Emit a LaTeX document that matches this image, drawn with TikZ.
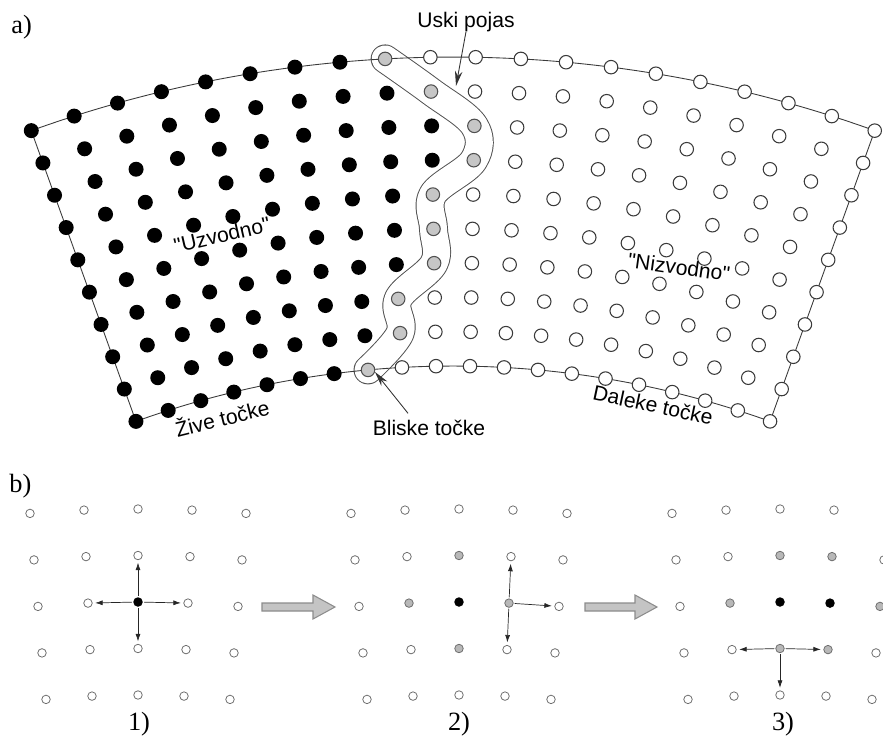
\documentclass[tikz,border=0pt]{standalone}
\usepackage{fontspec}
\setmainfont{Liberation Serif}
\newfontfamily\lsans{Liberation Sans}
\usetikzlibrary{arrows.meta}
\definecolor{dotgray}{HTML}{C6C6C6}
\definecolor{smallgray}{HTML}{B8B8B8}
\definecolor{linegray}{HTML}{3A3A3A}
\definecolor{bandgray}{HTML}{505050}
\definecolor{arrowfill}{HTML}{C4C4C4}
\definecolor{arrowedge}{HTML}{8C8C8C}
\definecolor{ringgray}{HTML}{6E6E6E}
\newcommand\markblack[1]{\expandafter\def\csname Sb#1\endcsname{}}
\newcommand\markgrey[1]{\expandafter\def\csname Sg#1\endcsname{}}
\markblack{0-2-2}\markblack{1-2-2}\markblack{2-2-2}\markblack{2-2-3}
\markgrey{1-1-2}\markgrey{1-2-1}\markgrey{1-2-3}\markgrey{1-3-2}
\markgrey{2-1-2}\markgrey{2-1-3}\markgrey{2-2-1}\markgrey{2-2-4}\markgrey{2-3-2}\markgrey{2-3-3}
\begin{document}
\begin{tikzpicture}[x=0.02cm,y=-0.02cm,
  blackdot/.style={circle,inner sep=0pt,minimum size=0.3cm,fill=black},
  whitedot/.style={circle,inner sep=0pt,minimum size=0.27cm,draw=linegray,line width=0.6pt,fill=white},
  greydot/.style={whitedot,fill=dotgray,draw=bandgray},
  sblack/.style={circle,inner sep=0pt,minimum size=0.19cm,fill=black},
  swhite/.style={circle,inner sep=0pt,minimum size=0.17cm,draw=ringgray,line width=0.45pt,fill=white},
  sgrey/.style={swhite,fill=smallgray},
  edgeline/.style={draw=linegray,line width=0.5pt},
  sanslabel/.style={font=\lsans\fontsize{12}{14}\selectfont,inner sep=0pt},
  serlabel/.style={font=\fontsize{15}{17}\selectfont,inner sep=0pt},
  pointer/.style={draw=black!80,line width=0.5pt,-{Stealth[length=0.3cm,width=0.15cm]}},
  sarrow/.style={draw=black!85,line width=0.4pt,-{Latex[length=0.15cm,width=0.1cm]},shorten <=0.02cm,shorten >=0.05cm},
  bigarrow/.style={fill=arrowfill,draw=arrowedge,line width=0.6pt,line join=miter}
]
\useasboundingbox (0,0) rectangle (883,738);

% ---------- part a: polar grid coordinates
\foreach \i in {0,...,9}{
  \foreach \j in {0,...,19}{
    \pgfmathsetmacro\th{109.8-2.084211*\j}
    \pgfmathsetmacro\rr{1245-34.33333*\i}
    \coordinate (q\i-\j) at ({453+\rr*cos(\th)},{1302-\rr*sin(\th)});
  }
}

% narrow band
\draw[draw=bandgray,line width=0.55pt,double=white,double distance=0.54cm,line cap=round,line join=round]
  plot[smooth,tension=0.6] coordinates {(q0-8) (q1-9) (q2-10) (q3-10) (q4-9) (q5-9) (q6-9) (q7-8) (q8-8) (q9-7)};

% region boundary
\draw[edgeline] (q0-0) arc[start angle=-109.8,end angle=-70.2,radius=1245];
\draw[edgeline] (q9-0) arc[start angle=-109.8,end angle=-70.2,radius=936];
\draw[edgeline] (q0-0) -- (q9-0);
\draw[edgeline] (q0-19) -- (q9-19);

% points
\foreach \i/\g in {0/8,1/9,2/10,3/10,4/9,5/9,6/9,7/8,8/8,9/7}{
  \foreach \j in {0,...,19}{
    \ifnum\j<\g\relax
      \node[blackdot] (a\i-\j) at (q\i-\j) {};
    \else\ifnum\j=\g\relax
      \node[greydot] (a\i-\j) at (q\i-\j) {};
    \else
      \node[whitedot] (a\i-\j) at (q\i-\j) {};
    \fi\fi
  }
}

% labels part a
\node[serlabel,anchor=base west] (la) at (11,33) {a)};
\node[sanslabel,anchor=base] (uski) at (466,27) {Uski pojas};
\node[sanslabel,anchor=base] (bli) at (429,435) {Bliske točke};
\node[sanslabel,rotate=13] (uzv) at (222,235) {"Uzvodno"};
\node[sanslabel,rotate=-8] (niz) at (679,267) {"Nizvodno"};
\node[sanslabel,rotate=14] (ziv) at (222,417) {Žive točke};
\node[sanslabel,rotate=-12] (dal) at (653,405) {Daleke točke};
\coordinate (tipU) at (456,86);
\coordinate (tipB) at (375,372);
\draw[pointer] (uski.south) -- (tipU);
\draw[pointer] ([xshift=-0.42cm,yshift=0.12cm]bli.north) -- (tipB);

% ---------- part b
\node[serlabel,anchor=base west] (lb) at (9,492) {b)};
\foreach \g in {0,1,2}{
  \foreach \r in {0,...,4}{
    \foreach \k in {0,...,4}{
      \pgfmathsetmacro\xx{138+321*\g+(\k-2)*(54-2*\r)}
      \pgfmathsetmacro\yy{509+46.5*\r+1.1*(\k-2)*(\k-2)}
      \ifcsname Sb\g-\r-\k\endcsname
        \node[sblack] (b\g-\r-\k) at (\xx,\yy) {};
      \else\ifcsname Sg\g-\r-\k\endcsname
        \node[sgrey] (b\g-\r-\k) at (\xx,\yy) {};
      \else
        \node[swhite] (b\g-\r-\k) at (\xx,\yy) {};
      \fi\fi
    }
  }
}
\foreach \t in {1-2,3-2,2-1,2-3}{\draw[sarrow] (b0-2-2) -- (b0-\t);}
\foreach \t in {1-3,3-3,2-4}{\draw[sarrow] (b1-2-3) -- (b1-\t);}
\foreach \t in {3-1,3-3,4-2}{\draw[sarrow] (b2-3-2) -- (b2-\t);}

\path[bigarrow] (262,603) -- (313,603) -- (313,595) -- (335,607) -- (313,619) -- (313,611) -- (262,611) -- cycle;
\path[bigarrow] (585,603) -- (635,603) -- (635,595) -- (657,607) -- (635,619) -- (635,611) -- (585,611) -- cycle;

\node[serlabel,anchor=base] (l1) at (139,730) {1)};
\node[serlabel,anchor=base] (l2) at (459,730) {2)};
\node[serlabel,anchor=base] (l3) at (783,730) {3)};
\end{tikzpicture}
\end{document}
